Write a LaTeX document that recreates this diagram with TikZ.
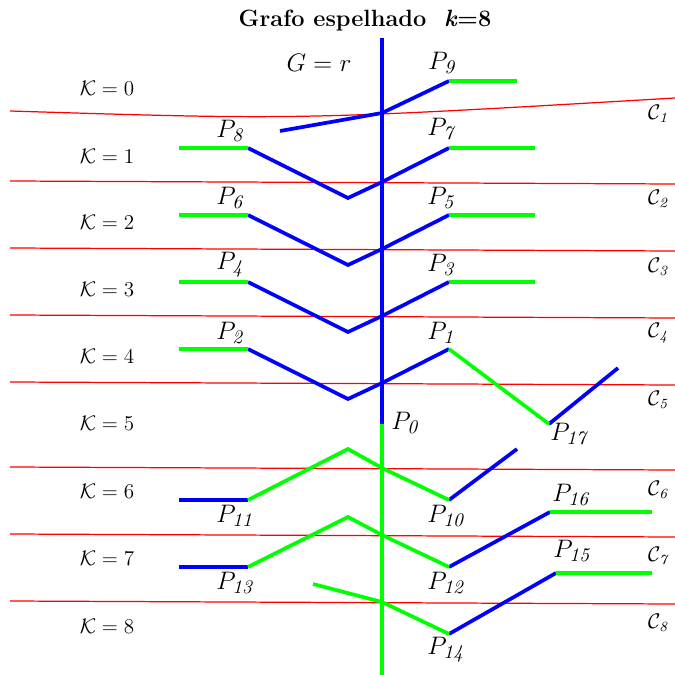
\documentclass[tikz,border=0pt]{standalone}
\usepackage{amsmath,amssymb}
\usetikzlibrary{positioning}

\begin{document}
\begin{tikzpicture}[x=0.02cm,y=-0.02cm,
  bl/.style={blue,line width=2.1pt},
  gr/.style={green,line width=2.1pt},
  cut/.style={red,line width=0.7pt},
  lab/.style={font=\fontsize{15.8}{18}\selectfont},
  lev/.style={font=\large}]
\useasboundingbox (0,0) rectangle (675,675);

% cuts
\coordinate (c1l) at (10,111);  \coordinate (c1r) at (675,98);
\coordinate (c2l) at (10,181);  \coordinate (c2r) at (675,184);
\coordinate (c3l) at (10,248);  \coordinate (c3r) at (675,251);
\coordinate (c4l) at (10,315);  \coordinate (c4r) at (675,318);
\coordinate (c5l) at (10,382);  \coordinate (c5r) at (675,385);
\coordinate (c6l) at (10,467);  \coordinate (c6r) at (675,470);
\coordinate (c7l) at (10,534);  \coordinate (c7r) at (675,537);
\coordinate (c8l) at (10,601);  \coordinate (c8r) at (675,604);
\draw[cut] (c1l) .. controls (300,120) .. (c1r);
\draw[cut] (c2l)--(c2r);
\draw[cut] (c3l)--(c3r);
\draw[cut] (c4l)--(c4r);
\draw[cut] (c5l)--(c5r);
\draw[cut] (c6l)--(c6r);
\draw[cut] (c7l)--(c7r);
\draw[cut] (c8l)--(c8r);

% points
\coordinate (top) at (382,38);
\coordinate (p0) at (382,424);
\coordinate (bot) at (382,675);
\coordinate (j1) at (382,113);
\coordinate (j2) at (382,182);
\coordinate (j3) at (382,249);
\coordinate (j4) at (382,316);
\coordinate (j5) at (382,383);
\coordinate (j6) at (382,468);
\coordinate (j7) at (382,535);
\coordinate (j8) at (382,602);
\coordinate (p9) at (449,81);   \coordinate (e9) at (517,81);
\coordinate (e0) at (280,131);
\coordinate (p8) at (248,148);  \coordinate (e8) at (179,148);
\coordinate (p7) at (449,148);  \coordinate (e7) at (535,148);
\coordinate (v1) at (348,198);
\coordinate (p6) at (248,215);  \coordinate (e6) at (179,215);
\coordinate (p5) at (449,215);  \coordinate (e5) at (535,215);
\coordinate (v2) at (348,265);
\coordinate (p4) at (248,282);  \coordinate (e4) at (179,282);
\coordinate (p3) at (449,282);  \coordinate (e3) at (535,282);
\coordinate (v3) at (348,332);
\coordinate (p2) at (248,349);  \coordinate (e2) at (179,349);
\coordinate (p1) at (449,349);
\coordinate (v4) at (348,399);
\coordinate (p17) at (549,424); \coordinate (e17) at (618,368);
\coordinate (p11) at (248,500); \coordinate (e11) at (179,500);
\coordinate (p10) at (449,500); \coordinate (e10) at (517,449);
\coordinate (u6) at (348,449);
\coordinate (p13) at (248,567); \coordinate (e13) at (179,567);
\coordinate (p12) at (449,567);
\coordinate (u7) at (348,517);
\coordinate (p16) at (550,512); \coordinate (e16) at (652,512);
\coordinate (e14) at (313,584);
\coordinate (p14) at (449,634);
\coordinate (p15) at (556,573); \coordinate (e15) at (652,573);

% blue part
\draw[bl] (top)--(p0);
\draw[bl] (e0)--(j1)--(p9);
\draw[bl] (p8)--(v1)--(j2)--(p7);
\draw[bl] (p6)--(v2)--(j3)--(p5);
\draw[bl] (p4)--(v3)--(j4)--(p3);
\draw[bl] (p2)--(v4)--(j5)--(p1);
\draw[bl] (p17)--(e17);
\draw[bl] (e11)--(p11);
\draw[bl] (p10)--(e10);
\draw[bl] (e13)--(p13);
\draw[bl] (p12)--(p16);
\draw[bl] (p14)--(p15);

% green part
\draw[gr] (p0)--(bot);
\draw[gr] (p9)--(e9);
\draw[gr] (e8)--(p8);  \draw[gr] (p7)--(e7);
\draw[gr] (e6)--(p6);  \draw[gr] (p5)--(e5);
\draw[gr] (e4)--(p4);  \draw[gr] (p3)--(e3);
\draw[gr] (e2)--(p2);
\draw[gr] (p1)--(p17);
\draw[gr] (p11)--(u6)--(j6)--(p10);
\draw[gr] (p13)--(u7)--(j7)--(p12);
\draw[gr] (p16)--(e16);
\draw[gr] (e14)--(j8)--(p14);
\draw[gr] (p15)--(e15);

% labels
\node[font=\fontsize{13.4}{16}\selectfont\bfseries] (title) at (365,21) {Grafo espelhado\ \ \textit{k}=8};
\node[lab] (g) at (319,63) {$G=r$};
\node[lab] (lp0) at (406,423) {$P_{\mathit{0}}$};
\node[lab] (lp1) at (442,333) {$P_{\mathit{1}}$};
\node[lab] (lp2) at (231,333) {$P_{\mathit{2}}$};
\node[lab] (lp3) at (442,265) {$P_{\mathit{3}}$};
\node[lab] (lp4) at (231,265) {$P_{\mathit{4}}$};
\node[lab] (lp5) at (442,198) {$P_{\mathit{5}}$};
\node[lab] (lp6) at (231,198) {$P_{\mathit{6}}$};
\node[lab] (lp7) at (442,131) {$P_{\mathit{7}}$};
\node[lab] (lp8) at (231,131) {$P_{\mathit{8}}$};
\node[lab] (lp9) at (443,63) {$P_{\mathit{9}}$};
\node[lab] (lp10) at (447,516) {$P_{\mathit{10}}$};
\node[lab] (lp11) at (236,516) {$P_{\mathit{11}}$};
\node[lab] (lp12) at (447,583) {$P_{\mathit{12}}$};
\node[lab] (lp13) at (236,583) {$P_{\mathit{13}}$};
\node[lab] (lp14) at (447,650) {$P_{\mathit{14}}$};
\node[lab] (lp15) at (573,551) {$P_{\mathit{15}}$};
\node[lab] (lp16) at (572,495) {$P_{\mathit{16}}$};
\node[lab] (lp17) at (570,436) {$P_{\mathit{17}}$};

\node[lev] (k0) at (107,88) {$\mathcal{K}=0$};
\node[lev] (k1) at (107,156) {$\mathcal{K}=1$};
\node[lev] (k2) at (107,222) {$\mathcal{K}=2$};
\node[lev] (k3) at (107,289) {$\mathcal{K}=3$};
\node[lev] (k4) at (107,356) {$\mathcal{K}=4$};
\node[lev] (k5) at (107,423) {$\mathcal{K}=5$};
\node[lev] (k6) at (107,491) {$\mathcal{K}=6$};
\node[lev] (k7) at (107,558) {$\mathcal{K}=7$};
\node[lev] (k8) at (107,626) {$\mathcal{K}=8$};

\node[lev] (lc1) at (659,114) {$\mathcal{C}_{\mathit{1}}$};
\node[lev] (lc2) at (659,199) {$\mathcal{C}_{\mathit{2}}$};
\node[lev] (lc3) at (659,267) {$\mathcal{C}_{\mathit{3}}$};
\node[lev] (lc4) at (659,333) {$\mathcal{C}_{\mathit{4}}$};
\node[lev] (lc5) at (659,400) {$\mathcal{C}_{\mathit{5}}$};
\node[lev] (lc6) at (659,490) {$\mathcal{C}_{\mathit{6}}$};
\node[lev] (lc7) at (659,557) {$\mathcal{C}_{\mathit{7}}$};
\node[lev] (lc8) at (659,623) {$\mathcal{C}_{\mathit{8}}$};
\end{tikzpicture}
\end{document}
